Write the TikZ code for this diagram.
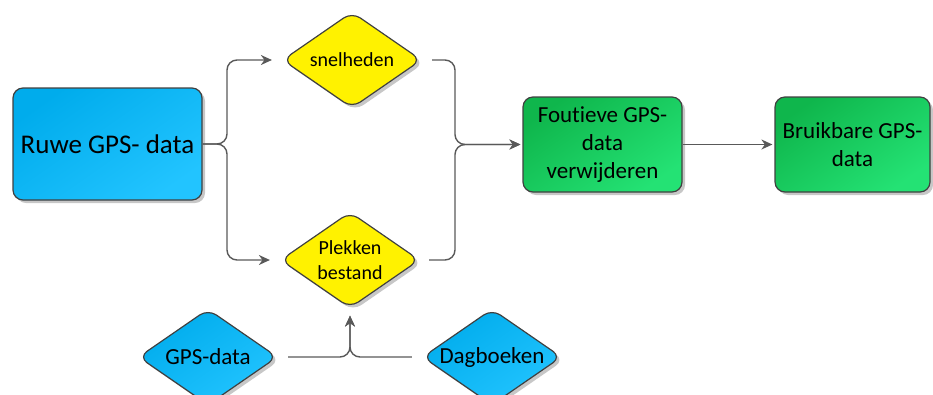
\documentclass[tikz,border=0pt]{standalone}
\usepackage{fontspec}
\setmainfont{Carlito}[Ligatures=NoCommon]
\usetikzlibrary{shapes.geometric,shadows,arrows.meta}

\definecolor{lijn}{HTML}{595959}
\definecolor{rand}{HTML}{404040}
\definecolor{blauwA}{HTML}{00ACEC}
\definecolor{blauwB}{HTML}{22C4FF}
\definecolor{groenA}{HTML}{0FB64C}
\definecolor{groenB}{HTML}{24E274}

\begin{document}
\begin{tikzpicture}[x=1pt,y=-1pt,
  schaduw/.style={drop shadow={shadow xshift=3pt,shadow yshift=-3pt,fill=black,opacity=.22}},
  bluebox/.style={rectangle,rounded corners=10pt,draw=rand,line width=1.2pt,schaduw,
    top color=blauwA,bottom color=blauwB,shading angle=35,align=center},
  greenbox/.style={rectangle,rounded corners=10pt,draw=rand,line width=1.2pt,schaduw,
    top color=groenA,bottom color=groenB,shading angle=35,align=center,
    minimum height=95pt,font=\fontsize{23}{28}\selectfont},
  yellowdiamond/.style={diamond,rounded corners=10pt,draw=rand,line width=1.2pt,schaduw,
    fill=yellow,aspect=1.45,minimum width=139pt,minimum height=96pt,inner sep=0pt,
    align=center,font=\fontsize{20}{25}\selectfont},
  bluediamond/.style={diamond,rounded corners=10pt,draw=rand,line width=1.2pt,schaduw,
    top color=blauwA,bottom color=blauwB,shading angle=35,aspect=1.45,
    minimum width=139pt,minimum height=96pt,inner sep=0pt,font=\fontsize{23}{28}\selectfont},
  conn/.style={draw=lijn,line width=1.4pt,rounded corners=10pt,
    -{Stealth[length=11pt,width=10pt,inset=3.5pt]}}]
\useasboundingbox (0,0) rectangle (933,394);

% knopen
\node[bluebox,minimum width=189pt,minimum height=112pt,font=\fontsize{27}{32}\selectfont]
  (ruwe) at (107.5,144) {Ruwe GPS- data};
\node[yellowdiamond] (snel) at (352,60) {snelheden};
\node[yellowdiamond] (plek) at (350,260) {Plekken\\bestand};
\node[greenbox,minimum width=159pt] (fout) at (602.5,144.5) {Foutieve GPS-\\data\\verwijderen};
\node[greenbox,minimum width=155pt] (bruik) at (852.5,144.5) {Bruikbare GPS-\\data};
\node[bluediamond] (gps) at (208,357) {GPS-data};
\node[bluediamond] (dag) at (492,357) {Dagboeken};

% verbindingen
\draw[conn,shorten >=10pt] (ruwe.east) -- (227,144) -- (227,60) -- (snel.west);
\draw[conn,shorten >=10pt] (ruwe.east) -- (227,144) -- (227,260) -- (plek.west);
\draw[conn,shorten <=10pt,shorten >=2pt] (snel.east) -- (455,60) -- (455,144.5) -- (fout.west);
\draw[conn,shorten <=9pt,shorten >=2pt] (plek.east) -- (455,260) -- (455,144.5) -- (fout.west);
\draw[conn,shorten >=2pt] (fout.east) -- (bruik.west);
\draw[conn,shorten <=10pt,shorten >=7pt] (gps.east) -- (350,357) -- (plek.south);
\draw[conn,shorten <=10pt,shorten >=7pt] (dag.west) -- (350,357) -- (plek.south);
\end{tikzpicture}
\end{document}
